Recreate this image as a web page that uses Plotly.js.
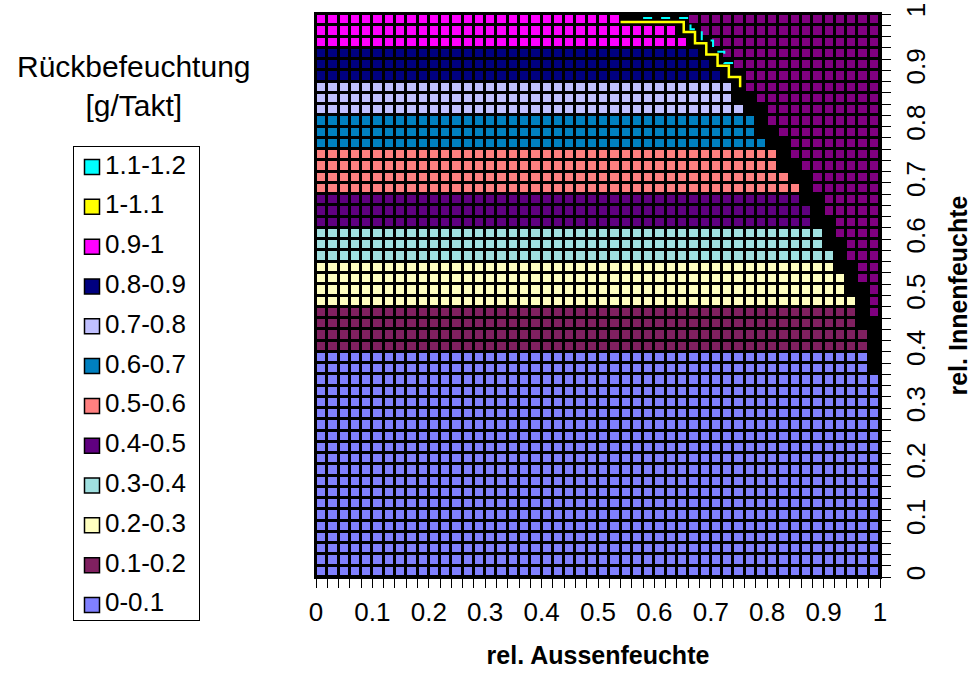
<!DOCTYPE html>
<html>
<head>
<meta charset="utf-8">
<script src="https://cdn.plot.ly/plotly-3.0.1.min.js"></script>
<style>
  html, body { margin: 0; padding: 0; background: #ffffff; }
  #chart { width: 972px; height: 675px; }
</style>
</head>
<body>
<div id="chart"></div>
<script>
// ---- data ----
const bandLabels = ['0-0.1','0.1-0.2','0.2-0.3','0.3-0.4','0.4-0.5','0.5-0.6',
                    '0.6-0.7','0.7-0.8','0.8-0.9','0.9-1','1-1.1','1.1-1.2'];
const bandColors = ['#8080FF','#802060','#FFFFC0','#A0E0E0','#600080','#FF8080',
                    '#0080C0','#C0C0FF','#000080','#FF00FF','#FFFF00','#00FFFF'];
const plateauColor = '#800080';
const plateauValue = 1.25;

// estimated Rückbefeuchtung per grid row (bottom row first, rel. Innenfeuchte 0 -> 1, step 0.02)
const rowValue = [
  0,0,0,0,0,0,0,0,0,0,0,0,0,0,0,0,0,0,0,0,
  0.11,0.14,0.17,0.19,0.21,0.24,0.27,0.29,0.32,0.35,
  0.38,0.41,0.44,0.47,0.51,0.54,0.57,0.59,0.62,0.65,
  0.68,0.71,0.74,0.77,0.81,0.84,0.87,0.91,0.94,0.97
];
// number of valid (coloured) cells in each row, counted from rel. Aussenfeuchte 0
const bandEndCol = [
  50,50,50,50,50,50,50,50,50,50,50,50,50,50,50,50,50,50,
  49,49,49,49,48,48,48,47,47,46,46,45,45,44,44,43,43,42,
  41,41,40,39,39,38,37,37,36,35,34,33,32,27
];
// first cell of the right-hand plateau region in each row
const plateauStartCol = [
  50,50,50,50,50,50,50,50,50,50,50,50,50,50,50,50,50,50,
  50,50,50,50,50,49,49,49,48,48,47,47,46,46,45,45,44,44,
  43,42,42,41,40,40,39,38,38,37,36,35,34,33
];
// thin 1-1.1 and 1.1-1.2 contour strips along the upper edge of the valid region
const contour10X = [0.54, 0.652, 0.652, 0.672, 0.672, 0.692, 0.692, 0.712, 0.712, 0.732, 0.732, 0.752, 0.752];
const contour10Y = [0.986, 0.986, 0.968, 0.968, 0.948, 0.948, 0.928, 0.928, 0.908, 0.908, 0.888, 0.888, 0.870];
const contour11X = [0.58, 0.664, 0.664, 0.684, 0.684, 0.704, 0.704, 0.724, 0.724, 0.744];
const contour11Y = [0.993, 0.993, 0.973, 0.973, 0.953, 0.953, 0.933, 0.933, 0.913, 0.913];

const nCols = 50;
const cellStep = 0.02;

// ---- build heatmap table ----
const z = rowValue.map(function (v, r) {
  return Array.from({length: nCols}, function (_, c) {
    if (c < bandEndCol[r]) return v;
    if (c < plateauStartCol[r]) return null;
    return plateauValue;
  });
});

const allColors = bandColors.concat([plateauColor]);
const nBands = allColors.length;
const colorscale = [];
allColors.forEach(function (c, i) {
  colorscale.push([i / nBands, c]);
  colorscale.push([(i + 1) / nBands, c]);
});

const FONT = 'Liberation Sans, Arial, sans-serif';

const traces = [
  {
    type: 'heatmap',
    z: z,
    x0: cellStep / 2, dx: cellStep,
    y0: cellStep / 2, dy: cellStep,
    zmin: 0, zmax: nBands * 0.1,
    colorscale: colorscale,
    showscale: false,
    xgap: 3, ygap: 3,
    hoverinfo: 'skip',
    xaxis: 'x', yaxis: 'y'
  },
  {
    type: 'scatter', mode: 'lines',
    x: contour11X, y: contour11Y,
    line: { color: bandColors[11], width: 2, dash: 'dash' },
    hoverinfo: 'skip', showlegend: false, xaxis: 'x', yaxis: 'y'
  },
  {
    type: 'scatter', mode: 'lines',
    x: contour10X, y: contour10Y,
    line: { color: bandColors[10], width: 2.5 },
    hoverinfo: 'skip', showlegend: false, xaxis: 'x', yaxis: 'y'
  },
  {
    type: 'scatter', mode: 'markers',
    x: bandLabels.map(function () { return 18; }),
    y: bandLabels,
    marker: { symbol: 'square', size: 15, color: bandColors,
              line: { color: '#000000', width: 1.5 } },
    hoverinfo: 'skip', showlegend: false,
    xaxis: 'x2', yaxis: 'y2', cliponaxis: false
  },
  {
    type: 'scatter', mode: 'text',
    x: bandLabels.map(function () { return 31; }),
    y: bandLabels,
    text: bandLabels,
    textposition: 'middle right',
    textfont: { family: FONT, size: 26, color: '#000000' },
    hoverinfo: 'skip', showlegend: false,
    xaxis: 'x2', yaxis: 'y2', cliponaxis: false
  }
];

const layout = {
  width: 972, height: 675,
  margin: { l: 0, r: 0, t: 0, b: 0 },
  paper_bgcolor: '#ffffff',
  plot_bgcolor: '#ffffff',
  font: { family: FONT, color: '#000000' },
  showlegend: false,
  hovermode: false,
  xaxis: {
    domain: [316 / 972, 880 / 972],
    anchor: 'y',
    range: [0, 1],
    tick0: 0, dtick: 0.1,
    ticks: 'outside', ticklen: 9, tickwidth: 1, tickcolor: '#000000',
    minor: { dtick: cellStep, ticks: 'outside', ticklen: 9, tickwidth: 1, tickcolor: '#000000', showgrid: false },
    showgrid: false, zeroline: false,
    showline: true, linecolor: '#000000', linewidth: 2, mirror: true,
    tickfont: { family: FONT, size: 26, color: '#000000' },
    ticklabelstandoff: 2,
    automargin: false,
    title: { text: 'rel. Aussenfeuchte', standoff: 20,
             font: { family: FONT, size: 25, color: '#000000', weight: 'bold' } }
  },
  yaxis: {
    domain: [98 / 675, 661 / 675],
    anchor: 'x',
    side: 'right',
    range: [0, 1],
    tick0: 0, dtick: 0.1,
    ticks: 'outside', ticklen: 9, tickwidth: 1, tickcolor: '#000000',
    minor: { dtick: cellStep, ticks: 'outside', ticklen: 9, tickwidth: 1, tickcolor: '#000000', showgrid: false },
    showgrid: false, zeroline: false,
    showline: true, linecolor: '#000000', linewidth: 2, mirror: true,
    tickangle: -90,
    tickfont: { family: FONT, size: 26, color: '#000000' },
    ticklabelstandoff: 3,
    automargin: false,
    title: { text: 'rel. Innenfeuchte', standoff: 20,
             font: { family: FONT, size: 25, color: '#000000', weight: 'bold' } }
  },
  xaxis2: {
    domain: [74 / 972, 199 / 972],
    anchor: 'y2',
    range: [0, 125],
    showgrid: false, zeroline: false, showticklabels: false, ticks: '',
    showline: true, linecolor: '#000000', linewidth: 1, mirror: true,
    fixedrange: true
  },
  yaxis2: {
    domain: [55 / 675, 528 / 675],
    anchor: 'x2',
    type: 'category',
    categoryarray: bandLabels,
    range: [-0.377, 11.503],
    showgrid: false, zeroline: false, showticklabels: false, ticks: '',
    showline: true, linecolor: '#000000', linewidth: 1, mirror: true,
    fixedrange: true
  },
  shapes: [
    { type: 'rect', xref: 'x domain', yref: 'y domain', x0: 0, x1: 1, y0: 0, y1: 1,
      fillcolor: '#000000', line: { width: 0 }, layer: 'below' }
  ],
  annotations: [
    { text: 'Rückbefeuchtung<br>[g/Takt]', xref: 'paper', yref: 'paper',
      x: 133.5 / 972, y: (675 - 86) / 675, xanchor: 'center', yanchor: 'middle',
      showarrow: false, align: 'center',
      font: { family: FONT, size: 30, color: '#000000' } }
  ]
};

Plotly.newPlot('chart', traces, layout, { displayModeBar: false, staticPlot: true });
</script>
</body>
</html>
